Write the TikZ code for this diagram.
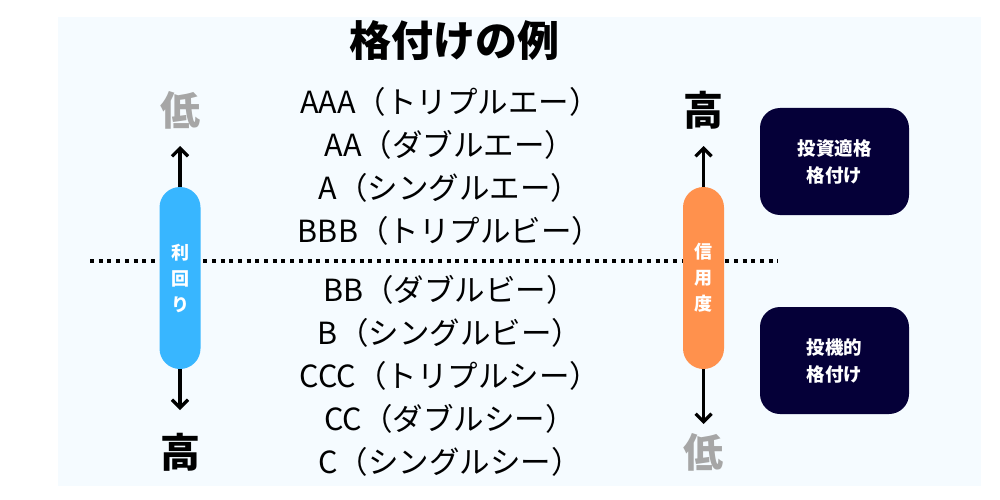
\documentclass[tikz,border=0pt]{standalone}
\usepackage{fontspec}
\setmainfont{Noto Sans CJK JP}
\usetikzlibrary{arrows.meta}
\definecolor{panel}{HTML}{F5FBFF}
\definecolor{pillblue}{HTML}{38B6FF}
\definecolor{pillorange}{HTML}{FF914D}
\definecolor{navy}{HTML}{050038}
\definecolor{lowgray}{HTML}{A6A6A6}
\tikzset{
  pill/.style={draw=none, rounded corners=20.5pt, minimum width=41pt, minimum height=182pt, inner sep=0pt,
    text=white, font=\fontsize{18}{26}\selectfont\bfseries, align=center},
  gradebox/.style={fill=navy, rounded corners=20pt, minimum width=149pt, minimum height=107pt, inner sep=0pt,
    text=white, font=\fontsize{18.5}{27}\selectfont\bfseries, align=center},
  grade/.style={font=\fontsize{30.5}{31}\selectfont, inner sep=0pt, anchor=center},
  endlabel/.style={font=\fontsize{40}{40}\selectfont\bfseries, inner sep=0pt},
  axisarrow/.style={line width=3.2pt, -{Straight Barb[length=8pt,width=16pt,line width=3.2pt]}},
  divider/.style={line width=3.5pt, dash pattern=on 4pt off 4.7pt}
}
\begin{document}
\begin{tikzpicture}[x=1pt,y=-1pt]
\useasboundingbox (0,0) rectangle (1000,500);
\fill[white] (0,0) rectangle (1000,500);
\fill[panel] (58,17) rectangle (981,486);

\node[font=\fontsize{42}{42}\selectfont\bfseries, inner sep=0pt] (title) at (454,41) {格付けの例};

\coordinate (dl) at (90,261);
\coordinate (dr) at (778,261);
\draw[divider] (dl) -- (dr);

\node[grade] (g1) at (450,102) {AAA（トリプルエー）};
\node[grade] (g2) at (450,145) {AA（ダブルエー）};
\node[grade] (g3) at (450,188) {A（シングルエー）};
\node[grade] (g4) at (450,231) {BBB（トリプルビー）};
\node[grade] (g5) at (450,290) {BB（ダブルビー）};
\node[grade] (g6) at (450,333) {B（シングルビー）};
\node[grade] (g7) at (450,376) {CCC（トリプルシー）};
\node[grade] (g8) at (450,419) {CC（ダブルシー）};
\node[grade] (g9) at (450,462) {C（シングルシー）};

% left axis
\node[pill, fill=pillblue] (yield) at (180,278) {利\\回\\り};
\node[endlabel, text=lowgray] (ylow) at (180,110) {低};
\node[endlabel, text=black] (yhigh) at (180,452) {高};
\coordinate (ytipup) at (180,146);
\coordinate (ytipdown) at (180,410);
\draw[axisarrow] (yield.north) -- (ytipup);
\draw[axisarrow] (yield.south) -- (ytipdown);

% right axis
\node[pill, fill=pillorange] (credit) at (703.5,278) {信\\用\\度};
\node[endlabel, text=black] (chigh) at (703.5,110) {高};
\node[endlabel, text=lowgray] (clow) at (703.5,452) {低};
\coordinate (ctipup) at (703.5,146);
\coordinate (ctipdown) at (703.5,424);
\draw[axisarrow] (credit.north) -- (ctipup);
\draw[axisarrow] (credit.south) -- (ctipdown);

% boxes
\node[gradebox] (inv) at (834.5,161.5) {投資適格\\格付け};
\node[gradebox] (spec) at (834.5,360.5) {投機的\\格付け};
\end{tikzpicture}
\end{document}
